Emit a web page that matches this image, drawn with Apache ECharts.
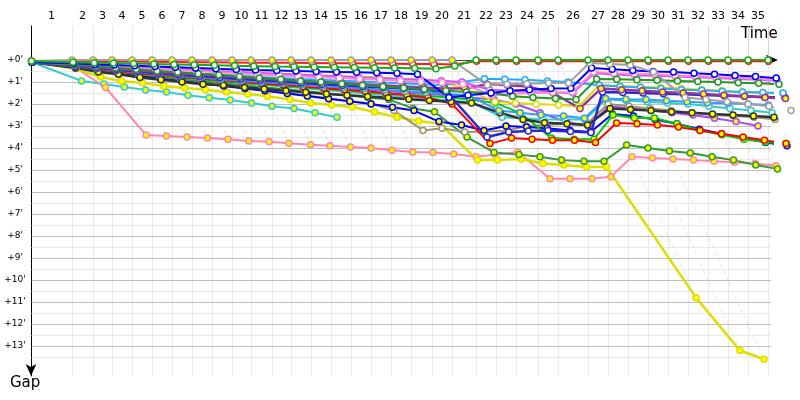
<!DOCTYPE html>
<html>
<head>
<meta charset="utf-8">
<title>Gap chart</title>
<script src="https://cdn.jsdelivr.net/npm/echarts@6.0.0/dist/echarts.min.js"></script>
<style>
  html, body { margin: 0; padding: 0; background: #fff; }
  #chart { width: 800px; height: 400px; }
</style>
</head>
<body>
<div id="chart"></div>
<script>
// leader's race time (minutes) when he crosses the line, lap 0 = start
var leaderTime = [0, 4.1, 6.2, 8.1, 10.1, 12.1, 14.1, 16.1, 18.1, 20.1, 22.0,
  24.1, 26.0, 28.0, 30.0, 32.0, 34.0, 36.0, 38.0, 40.1, 42.1,
  44.5, 46.5, 48.5, 50.7, 52.7, 55.7, 57.7, 59.7, 61.7, 63.7,
  65.7, 67.7, 69.7, 71.7, 73.7];

var lapLabels = ['1', '2', '3', '4', '5', '6', '7', '8', '9', '10', '11', '12', '13', '14', '15',
  '16', '17', '18', '19', '20', '21', '22', '23', '24', '25', '26', '27', '28', '29', '30',
  '31', '32', '33', '34', '35'];

var gapTicks = [0, 1, 2, 3, 4, 5, 6, 7, 8, 9, 10, 11, 12, 13];

// race phase of every lap (1..35): n normal, r red marks, g green marks
var lapPhase = 'nnnnnnnnnnnnnnnnnnnnrrrrrgggggrrrrr';

// gap to the leader in minutes, one value per lap starting at lap 0
var gapGrey = [0.05, 0, 0, 0, 0, 0, 0, 0, 0, 0, 0, 0, 0, 0, 0, 0, 0, 0, 0, 0, 0,
  1.14, 1.1, 1.08, 1.05, 1.05, 0.14, 0.18, 0.23, 0.55, 1.7, 1.8, 1.9, 2.0, 2.1, 2.3];
var gapGreen = [0.05, 0.1, 0.12, 0.14, 0.16, 0.18, 0.2, 0.22, 0.24, 0.26, 0.28,
  0.3, 0.31, 0.32, 0.33, 0.34, 0.35, 0.36, 0.37, 0.4, 0.27,
  0, 0, 0, 0, 0, 0, 0, 0, 0, 0, 0, 0, 0, 0, 0];
var gapRed = [0.05, 0.04, 0.05, 0.06, 0.07, 0.08, 0.09, 0.1, 0.1, 0.11, 0.12,
  0.12, 0.13, 0.14, 0.15, 0.15, 0.16, 0.17, 0.18, 0.18, 0.2,
  0.06, 0.06, 0.06, 0.06, 0.06, 0.06, 0.06, 0.06, 0.06, 0.06, 0.06, 0.06, 0.06, 0.06, 0.06];
var gapBlue = [0.1, 0.15, 0.2, 0.23, 0.26, 0.3, 0.33, 0.36, 0.4, 0.43, 0.46,
  0.48, 0.5, 0.52, 0.54, 0.56, 0.58, 0.6, 0.65, 1.7, 1.6,
  1.5, 1.4, 1.35, 1.3, 1.28, 0.36, 0.42, 0.48, 0.52, 0.55, 0.6, 0.65, 0.7, 0.75, 0.82];
var gapDarkGreen = [0.1, 0.2, 0.28, 0.35, 0.42, 0.5, 0.56, 0.62, 0.68, 0.75, 0.82,
  0.88, 0.95, 1.0, 1.08, 1.15, 1.2, 1.27, 1.33, 1.4, 1.45,
  1.5, 1.65, 1.7, 1.75, 1.8, 0.86, 0.88, 0.9, 0.92, 0.95, 0.98, 1.0, 1.03, 1.06, 1.1];
var gapPink = [0.1, 0.18, 0.24, 0.3, 0.35, 0.4, 0.45, 0.5, 0.55, 0.6, 0.65,
  0.7, 0.74, 0.78, 0.82, 0.86, 0.9, 0.94, 0.98, 1.02, 1.1,
  1.6, 1.55, 1.5, 1.48, 1.45, 0.55, 0.6, 0.62, 0.65, 0.7, 0.73, 0.77, 0.8, 0.85, 0.9];
var gapViolet = [0.1, 0.14, 0.2, 0.26, 0.31, 0.36, 0.41, 0.46, 0.5, 0.54, 0.58,
  0.62, 0.66, 0.7, 0.74, 0.78, 0.82, 0.86, 0.9, 0.94, 1.0,
  1.35, 1.4, 1.45, 1.48, 1.5, 0.6, 0.66, 0.7, 0.72, 0.75, 0.78, 0.82, 0.86, 0.9, 0.95];
var gapPurple = [0.1, 0.25, 0.33, 0.4, 0.47, 0.54, 0.6, 0.66, 0.72, 0.78, 0.84,
  0.9, 0.95, 1.0, 1.05, 1.1, 1.15, 1.2, 1.25, 1.3, 1.3,
  1.1, 1.15, 1.2, 1.5, 2.2, 1.3, 1.35, 1.4, 1.45, 1.5, 1.55, 1.6, 1.65, 1.7, 1.75];
var gapSky = [0.1, 0.22, 0.3, 0.37, 0.44, 0.5, 0.56, 0.62, 0.67, 0.72, 0.77,
  0.82, 0.86, 0.9, 0.94, 0.98, 1.02, 1.06, 1.1, 1.14, 1.0,
  0.85, 0.88, 0.9, 0.95, 1.0, 1.15, 1.2, 1.25, 1.3, 1.35, 1.38, 1.42, 1.45, 1.48, 1.5];
var gapNavy = [0.1, 0.27, 0.36, 0.44, 0.52, 0.6, 0.67, 0.74, 0.8, 0.86, 0.92,
  0.98, 1.04, 1.1, 1.15, 1.2, 1.25, 1.3, 1.35, 1.45, 3.5,
  3.27, 3.23, 3.2, 3.25, 3.3, 1.45, 1.48, 1.5, 1.53, 1.56, 1.59, 1.62, 1.65, 1.68, 1.7];
var gapYellowW = [0.1, 0.17, 0.24, 0.3, 0.35, 0.4, 0.45, 0.5, 0.54, 0.58, 0.62,
  0.66, 0.7, 0.72, 0.74, 0.76, 0.8, 0.85, 0.9, 1.0, 1.3,
  1.9, 1.95, 2.0, 2.05, 2.1, 1.14, 1.18, 1.22, 1.26, 1.3, 1.35, 1.4, 1.45, 1.5, 1.55];
var gapSkyY = [0.1, 0.3, 0.4, 0.48, 0.56, 0.64, 0.72, 0.8, 0.87, 0.94, 1.0,
  1.06, 1.12, 1.18, 1.24, 1.3, 1.36, 1.42, 1.48, 1.55, 1.6,
  2.3, 2.4, 2.5, 2.55, 2.65, 1.75, 1.78, 1.8, 1.85, 1.9, 1.94, 1.97, 2.0, 2.05];
var gapBlack = [0.1, 0.35, 0.55, 0.65, 0.8, 0.9, 1.0, 1.1, 1.15, 1.25, 1.32,
  1.4, 1.47, 1.54, 1.6, 1.66, 1.72, 1.78, 1.84, 1.9, 1.95,
  2.4, 2.7, 2.85, 2.9, 2.95, 2.2, 2.25, 2.3, 2.35, 2.4, 2.45, 2.5, 2.55, 2.6];
var gapRedY = [0.1, 0.3, 0.42, 0.52, 0.6, 0.68, 0.76, 0.84, 0.92, 1.0, 1.07,
  1.14, 1.21, 1.28, 1.35, 1.42, 1.5, 1.6, 1.7, 2.0, 3.8,
  3.55, 3.6, 3.65, 3.65, 3.75, 2.86, 2.9, 2.95, 3.05, 3.2, 3.35, 3.5, 3.65, 3.8];
var gapGreenY = [0.1, 0.32, 0.45, 0.55, 0.64, 0.72, 0.8, 0.88, 0.96, 1.03, 1.1,
  1.17, 1.24, 1.31, 1.38, 1.45, 1.52, 1.58, 1.64, 1.7, 1.8,
  1.95, 2.4, 3.55, 3.6, 3.6, 2.5, 2.64, 2.64, 2.9, 3.2, 3.4, 3.6, 3.73, 3.8];
var gapBlueY = [0.1, 0.35, 0.5, 0.62, 0.74, 0.85, 0.96, 1.07, 1.18, 1.29, 1.4,
  1.52, 1.64, 1.76, 1.88, 2.0, 2.15, 2.3, 2.8, 2.95, 3.2,
  3.0, 3.05, 3.1, 3.2, 3.27, 2.45, 2.55, 2.7, 2.9, 3.15, 3.35, 3.55, 3.75, 3.9];
var gapOlive = [0.1, 0.36, 0.5, 0.62, 0.73, 0.84, 0.95, 1.06, 1.17, 1.28, 1.39,
  1.5, 1.62, 1.74, 1.86, 1.98, 2.3, 3.2, 3.1, 3.27, 3.25,
  3.2, 3.0, 2.95, 2.9, 2.9, 2.0, 2.1, 2.2, 2.3, 2.4, 2.5, 2.55, 2.6, 2.7];
var gapCyanW = [0.1, 0.3, 0.42, 0.52, 0.62, 0.71, 0.8, 0.88, 0.96, 1.04, 1.12,
  1.2, 1.28, 1.36, 1.44, 1.52, 1.6, 1.68, 1.76, 1.84, 1.92,
  2.6, 2.65, 2.7, 2.7, 2.7, 1.8, 1.85, 1.9, 1.95, 2.0, 2.1, 2.2, 2.3, 2.4];
var gapVioletY = [0.1, 0.28, 0.38, 0.46, 0.54, 0.62, 0.7, 0.78, 0.85, 0.92, 0.99,
  1.06, 1.13, 1.2, 1.27, 1.34, 1.41, 1.48, 1.55, 1.6, 1.7,
  1.8, 2.0, 2.4, 2.8, 3.0, 2.1, 2.2, 2.3, 2.4, 2.5, 2.65, 2.8, 3.0];
var gapDarkGreenY = [0.1, 0.33, 0.46, 0.57, 0.67, 0.77, 0.87, 0.97, 1.06, 1.15, 1.24,
  1.33, 1.42, 1.51, 1.6, 1.7, 1.8, 2.2, 2.35, 3.5, 4.2,
  4.3, 4.4, 4.55, 4.6, 4.6, 3.86, 4.0, 4.14, 4.23, 4.4, 4.55, 4.77, 4.95];
var gapPinkY = [0.1, 0.35, 1.25, 3.41, 3.45, 3.5, 3.55, 3.6, 3.68, 3.72, 3.78,
  3.85, 3.9, 3.95, 4.0, 4.1, 4.18, 4.2, 4.27, 4.4, 4.3,
  4.18, 5.4, 5.4, 5.4, 5.3, 4.4, 4.45, 4.5, 4.55, 4.6, 4.65, 4.7, 4.8];
var gapYellowY = [0.1, 0.4, 0.77, 0.95, 1.05, 1.18, 1.27, 1.35, 1.45, 1.55, 1.65,
  1.8, 1.95, 2.05, 2.14, 2.36, 2.6, 2.77, 2.9, 4.55, 4.55,
  4.5, 4.7, 4.77, 4.86, 4.86, 10.8, 13.2, 13.6];
var gapCyanY = [0.1, 0.95, 1.09, 1.23, 1.36, 1.45, 1.6, 1.72, 1.82, 1.95, 2.1, 2.2, 2.4, 2.6];

var Y = '#ffff00', W = '#ffffff';

// drawn back to front
var drivers = [
  { color: '#33cccc', fill: Y, gaps: gapCyanY },
  { color: '#ff88aa', fill: Y, gaps: gapPinkY },
  { color: '#dddd00', fill: Y, gaps: gapYellowY, width: 2.5 },
  { color: '#339933', fill: Y, gaps: gapDarkGreenY },
  { color: '#aa44ff', fill: Y, gaps: gapVioletY },
  { color: '#33cccc', fill: W, gaps: gapCyanW },
  { color: '#999966', fill: W, gaps: gapOlive },
  { color: '#0000ee', fill: Y, gaps: gapBlueY },
  { color: '#00cc00', fill: Y, gaps: gapGreenY },
  { color: '#ff0000', fill: Y, gaps: gapRedY },
  { color: '#333333', fill: Y, gaps: gapBlack, width: 2.5 },
  { color: '#3399ff', fill: Y, gaps: gapSkyY },
  { color: '#dddd00', fill: W, gaps: gapYellowW },
  { color: '#2a2acc', fill: W, gaps: gapNavy, width: 2.5 },
  { color: '#22aaff', fill: W, gaps: gapSky },
  { color: '#993399', fill: Y, gaps: gapPurple, width: 2.5 },
  { color: '#cc55ff', fill: W, gaps: gapViolet },
  { color: '#ff88cc', fill: W, gaps: gapPink },
  { color: '#229922', fill: W, gaps: gapDarkGreen },
  { color: '#0000ff', fill: W, gaps: gapBlue },
  { color: '#ff1a1a', fill: W, gaps: gapRed },
  { color: '#a0a0a0', fill: Y, fillLater: W, switchLap: 21, gaps: gapGrey },
  { color: '#1aab1a', fill: W, gaps: gapGreen }
];

var X_MAX = 74.2, Y_MIN = -1.545, Y_MAX = 14.36, GRID_END = 74.0;
var phaseDash = { n: '#c4c4c4', r: '#ffaaaa', g: '#a8e8a8' };

function lapTimeOf(lap, gap) { return leaderTime[lap] + gap; }

function driverSeries(d) {
  var data = d.gaps.map(function (g, lap) {
    var fill = (d.switchLap && lap >= d.switchLap) ? d.fillLater : d.fill;
    return { value: [lapTimeOf(lap, g), g], itemStyle: { color: fill } };
  });
  return {
    type: 'line', data: data, clip: false, z: 5,
    symbol: 'circle', symbolSize: 6, showAllSymbol: true,
    lineStyle: { color: d.color, width: d.width || 2 },
    itemStyle: { borderColor: d.color, borderWidth: 1.5 }
  };
}

function segments(list, z) {
  return {
    type: 'lines', coordinateSystem: 'cartesian2d', silent: true, z: z,
    data: list
  };
}

// grid lines
var hDark = [], hLight = [], vGrid = [], vTop = [], diag = [];
for (var v = 0; v <= 13.5; v += 0.5) {
  var item = { coords: [[0, v], [GRID_END, v]] };
  if (v % 1 === 0) {
    item.lineStyle = { color: '#808080', width: 1 };
    hDark.push(item);
  } else {
    item.lineStyle = { color: '#d6d6d6', width: 1 };
    hLight.push(item);
  }
}
for (var lap = 1; lap < leaderTime.length; lap++) {
  var t = leaderTime[lap];
  var ph = lapPhase.charAt(lap - 1);
  vGrid.push({ coords: [[t, Y_MIN], [t, Y_MAX]], lineStyle: { color: '#d6d6d6', width: 1 } });
  if (ph !== 'n') {
    vTop.push({ coords: [[t, Y_MIN], [t, 0]], lineStyle: { color: phaseDash[ph], width: 1 } });
  }
  // dashed line joining the leader to the last car of this lap
  var gmax = 0;
  drivers.forEach(function (d) {
    if (d.gaps[lap] !== undefined && d.gaps[lap] > gmax) gmax = d.gaps[lap];
  });
  diag.push({
    coords: [[t, 0], [lapTimeOf(lap, gmax), gmax]],
    lineStyle: { color: phaseDash[ph], width: 1, type: [4, 3] }
  });
}

// lap number sits in the middle of each lap
var lapMid = [], midToLabel = {};
for (var i = 1; i < leaderTime.length; i++) {
  var m = (leaderTime[i - 1] + leaderTime[i]) / 2;
  lapMid.push(m);
  midToLabel[m.toFixed(2)] = lapLabels[i - 1];
}

var series = [
  segments(vGrid, 1), segments(hLight, 1), segments(hDark, 2),
  segments(vTop, 2), segments(diag, 3)
].concat(drivers.map(driverSeries));

var chart = echarts.init(document.getElementById('chart'));
chart.setOption({
  animation: false,
  grid: { left: 31, top: 26, width: 742, height: 350 },
  xAxis: {
    type: 'value', position: 'top', min: 0, max: X_MAX,
    axisLine: { show: true, symbol: ['none', 'arrow'], symbolSize: [8, 12],
      symbolOffset: [0, 5], lineStyle: { color: '#000', width: 1 } },
    axisTick: { show: false },
    splitLine: { show: false },
    axisLabel: {
      customValues: lapMid, margin: 4, color: '#000', fontSize: 11,
      fontFamily: 'DejaVu Sans',
      formatter: function (val) { return midToLabel[val.toFixed(2)] || ''; }
    }
  },
  yAxis: {
    type: 'value', inverse: true, min: Y_MIN, max: Y_MAX,
    axisLine: { show: true, symbol: ['arrow', 'none'], symbolSize: [8, 12],
      lineStyle: { color: '#000', width: 1 } },
    axisTick: { show: false },
    splitLine: { show: false },
    axisLabel: {
      customValues: gapTicks, margin: 16, align: 'center', color: '#000',
      fontSize: 9, fontFamily: 'DejaVu Sans',
      formatter: function (val) {
        return (val % 1 === 0 && val >= 0 && val <= 13) ? '+' + val + "'" : '';
      }
    }
  },
  graphic: [
    { type: 'text', left: 741, top: 27,
      style: { text: 'Time', font: '15px "DejaVu Sans"', fill: '#000' } },
    { type: 'text', left: 10, top: 376,
      style: { text: 'Gap', font: '15px "DejaVu Sans"', fill: '#000' } }
  ],
  series: series
});
</script>
</body>
</html>
